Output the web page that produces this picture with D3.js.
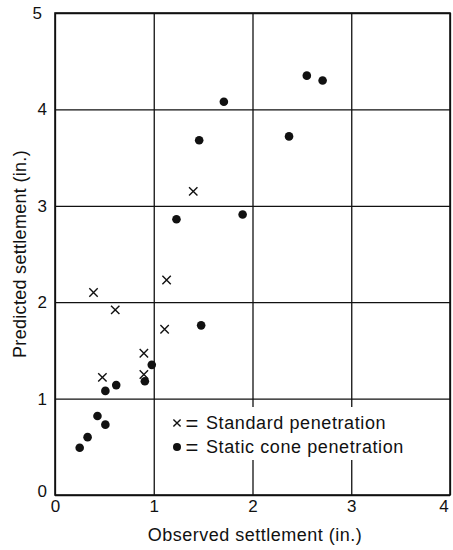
<!DOCTYPE html>
<html><head><meta charset="utf-8">
<script src="https://cdn.jsdelivr.net/npm/d3@7"></script>
<style>
html,body{margin:0;padding:0;background:#fff;}
svg{display:block;}
text{font-family:"Liberation Sans",Arial,sans-serif;fill:#111;}
</style></head>
<body>
<svg id="chart" width="453" height="550"></svg>
<script>
// Standard penetration (crosses)
const spObserved  = [0.39, 0.61, 1.13, 1.11, 0.90, 0.90, 0.48, 1.40];
const spPredicted = [2.10, 1.92, 2.23, 1.72, 1.47, 1.25, 1.22, 3.15];
// Static cone penetration (dots)
const scObserved  = [2.55, 2.71, 1.71, 1.46, 2.37, 1.23, 1.90, 1.48, 0.98, 0.91, 0.62, 0.51, 0.43, 0.51, 0.33, 0.25];
const scPredicted = [4.35, 4.30, 4.08, 3.68, 3.72, 2.86, 2.91, 1.76, 1.35, 1.18, 1.14, 1.08, 0.82, 0.73, 0.60, 0.49];
const xTicks = [0, 1, 2, 3, 4];
const yTicks = [0, 1, 2, 3, 4, 5];
const xTitle = "Observed settlement (in.)";
const yTitle = "Predicted settlement (in.)";
const legendLabels = ["Standard penetration", "Static cone penetration"];

const svg = d3.select("#chart");
const L = 55, R = 450, T = 13, B = 495;
const x = d3.scaleLinear().domain([0, 4]).range([L, R]);
const y = d3.scaleLinear().domain([0, 5]).range([B, T]);

// grid
const gx = svg.append("g").attr("transform", `translate(0,${B})`)
  .call(d3.axisBottom(x).tickValues(xTicks).tickSize(-(B - T)).tickFormat(""));
gx.select(".domain").remove();
gx.selectAll("line").attr("stroke", "#111").attr("stroke-width", 1.3);
const gy = svg.append("g").attr("transform", `translate(${L},0)`)
  .call(d3.axisLeft(y).tickValues(yTicks).tickSize(-(R - L)).tickFormat(""));
gy.select(".domain").remove();
gy.selectAll("line").attr("stroke", "#111").attr("stroke-width", 1.3);

// frame
svg.append("rect").attr("x", L).attr("y", T).attr("width", R - L).attr("height", B - T)
  .attr("fill", "none").attr("stroke", "#111").attr("stroke-width", 1.6);

// tick labels
const ax = svg.append("g").attr("transform", `translate(0,${B})`)
  .call(d3.axisBottom(x).tickValues(xTicks).tickSize(0).tickPadding(5).tickFormat(d3.format("d")));
ax.select(".domain").remove();
ax.selectAll("text").style("font-size", "17px").style("font-family", "'Liberation Sans',Arial,sans-serif").attr("fill", "#111");
ax.selectAll(".tick").filter(d => d === 4).select("text").attr("text-anchor", "end").attr("dx", "-0.1em");
const ay = svg.append("g").attr("transform", `translate(${L},0)`)
  .call(d3.axisLeft(y).tickValues(yTicks).tickSize(0).tickPadding(8).tickFormat(d3.format("d")));
ay.select(".domain").remove();
ay.selectAll("text").style("font-size", "17px").style("font-family", "'Liberation Sans',Arial,sans-serif").attr("fill", "#111");
ay.selectAll(".tick").filter(d => d === 0).select("text").attr("dy", "0.1em");
ay.selectAll(".tick").filter(d => d === 5).select("text").attr("dx", "-0.3em");

// axis titles
svg.append("text").attr("x", 255).attr("y", 541).attr("text-anchor", "middle")
  .style("font-size", "18px").style("letter-spacing", "0.5px").text(xTitle);
svg.append("text").attr("transform", "translate(26,254) rotate(-90)").attr("text-anchor", "middle")
  .style("font-size", "18px").style("letter-spacing", "0.3px").text(yTitle);

// legend background
svg.append("rect").attr("x", 160).attr("y", 407).attr("width", 262).attr("height", 53).attr("fill", "#fff");

const crossPath = (s) => `M${-s},${-s}L${s},${s}M${-s},${s}L${s},${-s}`;

// crosses
svg.append("g").selectAll("path").data(spObserved.map((v, i) => [v, spPredicted[i]])).join("path")
  .attr("transform", d => `translate(${x(d[0])},${y(d[1])})`)
  .attr("d", crossPath(4.2)).attr("stroke", "#111").attr("stroke-width", 1.4).attr("fill", "none");

// dots
svg.append("g").selectAll("circle").data(scObserved.map((v, i) => [v, scPredicted[i]])).join("circle")
  .attr("cx", d => x(d[0])).attr("cy", d => y(d[1])).attr("r", 4.3).attr("fill", "#111");

// legend
const lg = svg.append("g");
lg.append("path").attr("transform", "translate(177,423)").attr("d", crossPath(3.6))
  .attr("stroke", "#111").attr("stroke-width", 1.4);
lg.append("circle").attr("cx", 177).attr("cy", 447).attr("r", 4).attr("fill", "#111");
[423, 447].forEach((yy, i) => {
  lg.append("text").attr("x", 192).attr("y", yy).attr("dy", "0.35em").attr("text-anchor", "middle")
    .style("font-size", "22px").text("=");
  lg.append("text").attr("x", 206).attr("y", yy).attr("dy", "0.35em")
    .style("font-size", "18px").style("letter-spacing", "0.6px").text(legendLabels[i]);
});
</script>
</body></html>
